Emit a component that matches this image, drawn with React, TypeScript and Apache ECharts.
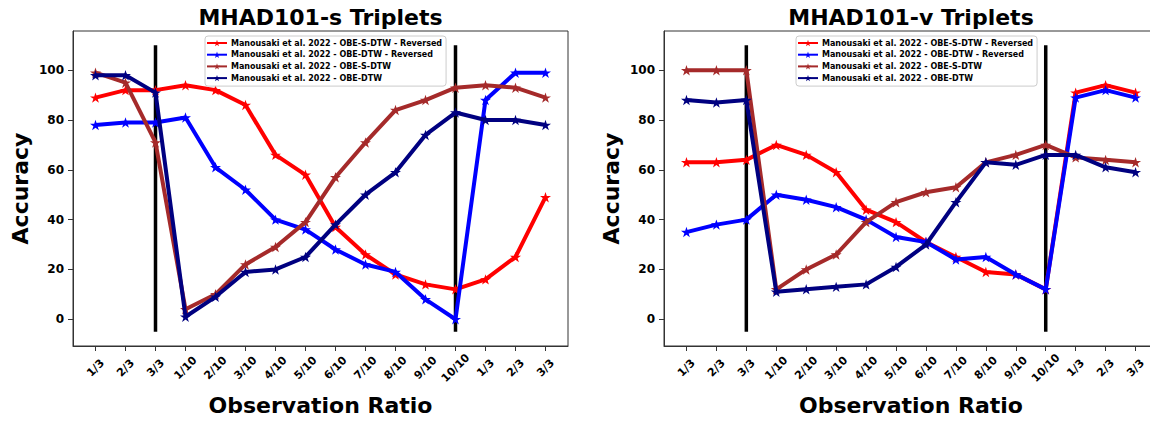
import React, { useEffect, useRef } from "react";
import * as echarts from "echarts";

const xLabels = ["1/3", "2/3", "3/3", "1/10", "2/10", "3/10", "4/10", "5/10", "6/10", "7/10", "8/10", "9/10", "10/10", "1/3", "2/3", "3/3"];
const yTicks = [0, 20, 40, 60, 80, 100];
const seriesNames = [
  "Manousaki et al. 2022 - OBE-S-DTW - Reversed",
  "Manousaki et al. 2022 - OBE-DTW - Reversed",
  "Manousaki et al. 2022 - OBE-S-DTW",
  "Manousaki et al. 2022 - OBE-DTW",
];
const seriesColors = ["#ff0000", "#0000ff", "#a52a2a", "#000080"];

// MHAD101-s
const sRedRev = [89, 92, 92, 94, 92, 86, 66, 58, 37, 26, 18, 14, 12, 16, 25, 49];
const sBlueRev = [78, 79, 79, 81, 61, 52, 40, 36, 28, 22, 19, 8, 0, 88, 99, 99];
const sBrown = [99, 95, 71, 4, 10, 22, 29, 39, 57, 71, 84, 88, 93, 94, 93, 89];
const sNavy = [98, 98, 91, 1, 9, 19, 20, 25, 38, 50, 59, 74, 83, 80, 80, 78];

// MHAD101-v
const vRedRev = [63, 63, 64, 70, 66, 59, 44, 39, 31, 25, 19, 18, 12, 91, 94, 91];
const vBlueRev = [35, 38, 40, 50, 48, 45, 40, 33, 31, 24, 25, 18, 12, 89, 92, 89];
const vBrown = [100, 100, 100, 12, 20, 26, 39, 47, 51, 53, 63, 66, 70, 65, 64, 63];
const vNavy = [88, 87, 88, 11, 12, 13, 14, 21, 30, 47, 63, 62, 66, 66, 61, 59];

const titles = ["MHAD101-s Triplets", "MHAD101-v Triplets"];
const dividerIdx = [2, 12];
const dividerRange = [-5, 110];

const STAR =
  "path://M0,-10 L2.245,-3.09 L9.511,-3.09 L3.633,1.18 L5.878,8.09 L0,3.82 L-5.878,8.09 L-3.633,1.18 L-9.511,-3.09 L-2.245,-3.09 Z";
const FONT = "DejaVu Sans";

export default function App() {
  const ref = useRef<HTMLDivElement>(null);
  useEffect(() => {
    document.body.style.margin = "0";
    document.body.style.overflow = "hidden";
    if (!ref.current) return;
    const chart = echarts.init(ref.current, null, { renderer: "svg" });
    const panels = [
      { data: [sRedRev, sBlueRev, sBrown, sNavy], left: 73, width: 495 },
      { data: [vRedRev, vBlueRev, vBrown, vNavy], left: 664, width: 494 },
    ];
    const xIdx = xLabels.map((_, i) => i);
    const grids: any[] = [];
    const xAxes: any[] = [];
    const yAxes: any[] = [];
    const series: any[] = [];
    const legends: any[] = [];
    const graphics: any[] = [];
    panels.forEach((p, pi) => {
      grids.push({
        left: p.left,
        top: 31,
        width: p.width,
        height: 316,
        show: true,
        borderColor: "#333",
        borderWidth: 1,
        containLabel: false,
      });
      xAxes.push({
        type: "value",
        gridIndex: pi,
        min: -0.75,
        max: 15.75,
        name: "Observation Ratio",
        nameLocation: "middle",
        nameGap: 48,
        nameTextStyle: { fontFamily: FONT, fontWeight: "bold", fontSize: 22, color: "#000" },
        axisLine: { show: true, onZero: false, lineStyle: { color: "#333", width: 1 } },
        axisTick: { show: true, length: 5, customValues: xIdx, lineStyle: { color: "#333" } },
        axisLabel: {
          customValues: xIdx,
          rotate: 45,
          align: "center",
          verticalAlign: "middle",
          margin: 22,
          fontFamily: FONT,
          fontWeight: "bold",
          fontSize: 11,
          color: "#000",
          formatter: (v: number) => xLabels[Math.round(v)] ?? "",
        },
        splitLine: { show: false },
      });
      yAxes.push({
        type: "value",
        gridIndex: pi,
        min: -10.75,
        max: 115.75,
        name: "Accuracy",
        nameLocation: "middle",
        nameGap: 42,
        nameTextStyle: { fontFamily: FONT, fontWeight: "bold", fontSize: 22, color: "#000" },
        axisLine: { show: true, onZero: false, lineStyle: { color: "#333", width: 1 } },
        axisTick: { show: true, length: 5, customValues: yTicks, lineStyle: { color: "#333" } },
        axisLabel: {
          customValues: yTicks,
          margin: 9,
          fontFamily: FONT,
          fontWeight: "bold",
          fontSize: 12,
          color: "#000",
        },
        splitLine: { show: false },
      });
      dividerIdx.forEach((d, di) => {
        series.push({
          type: "line",
          name: `divider-${pi}-${di}`,
          xAxisIndex: pi,
          yAxisIndex: pi,
          data: dividerRange.map((y) => [d, y]),
          symbol: "none",
          lineStyle: { color: "#000", width: 3.5 },
          z: 1,
          silent: true,
        });
      });
      p.data.forEach((vals, si) => {
        series.push({
          type: "line",
          name: seriesNames[si],
          xAxisIndex: pi,
          yAxisIndex: pi,
          data: vals.map((v, i) => [i, v]),
          symbol: STAR,
          symbolSize: 11,
          symbolKeepAspect: true,
          color: seriesColors[si],
          itemStyle: { color: seriesColors[si] },
          lineStyle: { color: seriesColors[si], width: 4 },
          z: 2 + si,
        });
      });
      legends.push({
        data: seriesNames,
        orient: "vertical",
        left: pi === 0 ? 205 : 796,
        top: 36,
        padding: [3, 4, 4, 1],
        itemWidth: 20,
        itemHeight: 8,
        itemGap: 3.7,
        borderColor: "#cccccc",
        borderWidth: 1,
        borderRadius: 3,
        backgroundColor: "rgba(255,255,255,0.8)",
        selectedMode: false,
        textStyle: { fontFamily: FONT, fontWeight: "bold", fontSize: 8, lineHeight: 8, color: "#000", padding: [0, 0, 0, -1] },
      });
      graphics.push({
        type: "text",
        x: p.left + p.width / 2,
        y: 17,
        style: {
          text: titles[pi],
          textAlign: "center",
          textVerticalAlign: "middle",
          font: `bold 22px "${FONT}"`,
          fill: "#000",
        },
      });
    });
    chart.setOption({
      animation: false,
      backgroundColor: "#fff",
      grid: grids,
      xAxis: xAxes,
      yAxis: yAxes,
      legend: legends,
      series,
      graphic: graphics,
    });
    return () => chart.dispose();
  }, []);
  return <div ref={ref} style={{ width: 1162, height: 421 }} />;
}
